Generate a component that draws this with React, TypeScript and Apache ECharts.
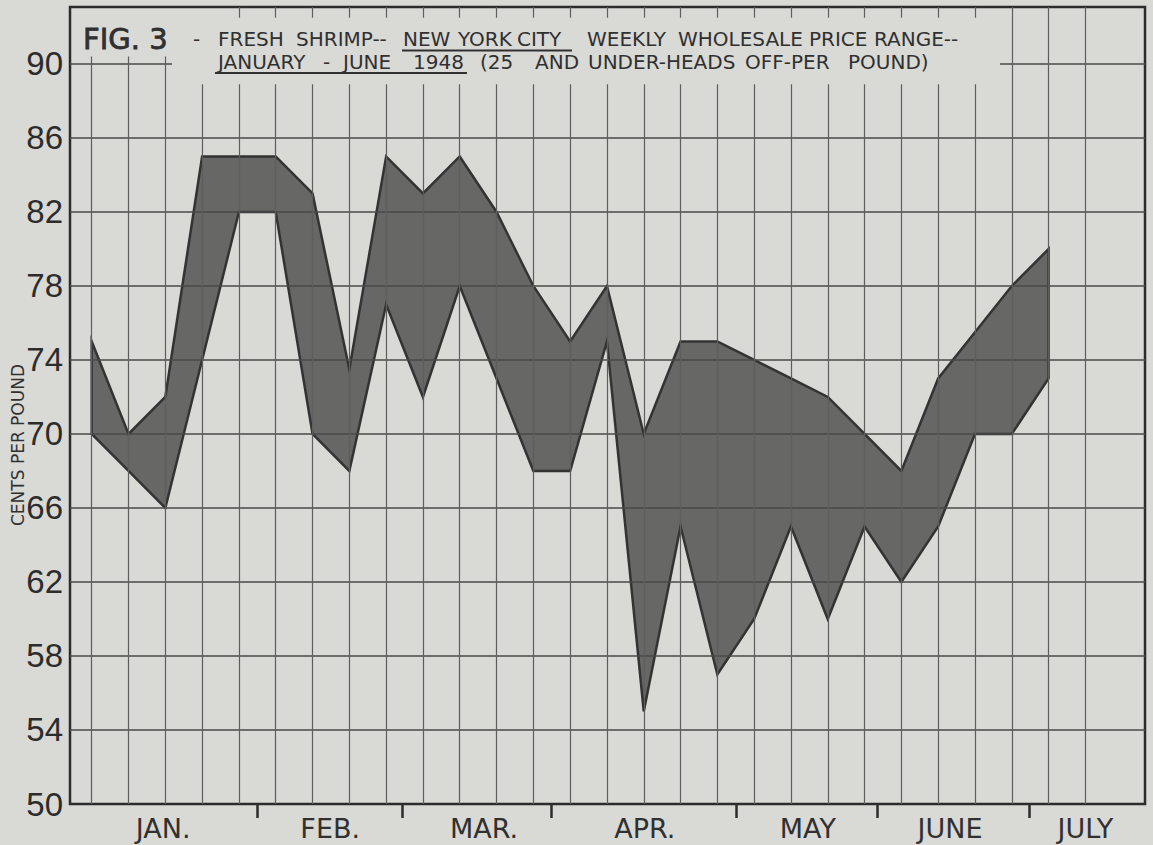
import React, { useEffect, useRef } from "react";
import * as echarts from "echarts";

// ---------------- data ----------------
const weekIndex = [0, 1, 2, 3, 4, 5, 6, 7, 8, 9, 10, 11, 12, 13, 14, 15, 16, 17, 18, 19, 20, 21, 22, 23, 24, 25, 26];
const lowPrice = [70, 68, 66, 74, 82, 82, 70, 68, 77, 72, 78, 73, 68, 68, 75, 55, 65, 57, 60, 65, 60, 65, 62, 65, 70, 70, 73];
const highPrice = [75, 70, 72, 85, 85, 85, 83, 73.5, 85, 83, 85, 82, 78, 75, 78, 70, 75, 75, 74, 73, 72, 70, 68, 73, 75.5, 78, 80];
const yTickValues = [50, 54, 58, 62, 66, 70, 74, 78, 82, 86, 90];
const monthLabels = ["JAN.", "FEB.", "MAR.", "APR.", "MAY", "JUNE", "JULY"];
const monthLabelWeeks = [1.94, 6.48, 10.66, 15.03, 19.46, 23.32, 27.0];
const monthBoundaryWeeks = [4.49, 8.44, 12.48, 17.51, 21.34, 25.47];
const gridWeeks = [0, 1, 2, 3, 4, 5, 6, 7, 8, 9, 10, 11, 12, 13, 14, 15, 16, 17, 18, 19, 20, 21, 22, 23, 24, 25, 26, 27];
const titleFig = "FIG. 3";
const titleRow1 = ["-", "FRESH", "SHRIMP--", "NEW", "YORK", "CITY", "WEEKLY", "WHOLESALE", "PRICE", "RANGE--"];
const titleRow2 = ["JANUARY", "-", "JUNE", "1948", "(25", "AND", "UNDER-HEADS", "OFF-PER", "POUND)"];
const yAxisTitle = "CENTS PER POUND";

// ---------------- layout ----------------
const X_MIN = -0.59;
const X_MAX = 28.62;
const Y_MIN = 50;
const Y_MAX = 93.08;
const row1X = [193, 218, 296, 403, 458, 517, 587, 678, 809, 874];
const row2X = [218, 323, 343, 413, 480, 535, 588, 745, 848];
const INK = "#303030";
const PAPER = "#d9d9d6";

function nearestMonth(v: number): string {
  let best = 0;
  for (let i = 1; i < monthLabelWeeks.length; i++) {
    if (Math.abs(monthLabelWeeks[i] - v) < Math.abs(monthLabelWeeks[best] - v)) best = i;
  }
  return monthLabels[best];
}

export default function App() {
  const ref = useRef<HTMLDivElement>(null);

  useEffect(() => {
    if (!ref.current) return;
    const chart = echarts.init(ref.current, null, { renderer: "svg" });

    const hSegs: any[] = yTickValues
      .filter((v) => v > Y_MIN && v < 90)
      .map((v) => [{ coord: [X_MIN, v] }, { coord: [X_MAX, v] }]);
    hSegs.push([{ coord: [X_MIN, 90] }, { coord: [2.18, 90] }]);
    hSegs.push([{ coord: [24.68, 90] }, { coord: [X_MAX, 90] }]);

    const vSegs: any[] = gridWeeks.map((w) => [
      { coord: [w, Y_MIN] },
      { coord: [w, w <= 2 ? 90.4 : w >= 25 ? Y_MAX : 88.9] },
    ]);
    gridWeeks
      .filter((w) => w >= 4 && w <= 24)
      .forEach((w) => vSegs.push([{ coord: [w, Y_MAX] }, { coord: [w, 92.5] }]));

    const helperData = weekIndex.map((w, i) => [w, lowPrice[i]]);
    const smallText = { fill: INK, fontFamily: "DejaVu Sans", fontSize: 20, verticalAlign: "middle", textVerticalAlign: "middle" };

    const graphic: any[] = [
      {
        type: "text",
        x: 83,
        y: 39,
        style: {
          text: titleFig,
          fill: INK,
          stroke: INK,
          lineWidth: 0.8,
          fontFamily: "DejaVu Sans",
          fontSize: 29,
          verticalAlign: "middle",
          textVerticalAlign: "middle",
        },
      },
      ...titleRow1.map((t, i) => ({ type: "text", x: row1X[i], y: 38.5, style: { ...smallText, text: t } })),
      ...titleRow2.map((t, i) => ({ type: "text", x: row2X[i], y: 62, style: { ...smallText, text: t } })),
      { type: "line", shape: { x1: 402, y1: 50.5, x2: 572, y2: 50.5 }, style: { stroke: INK, lineWidth: 1.8 } },
      { type: "line", shape: { x1: 215, y1: 73, x2: 467, y2: 73 }, style: { stroke: INK, lineWidth: 1.8 } },
      {
        type: "text",
        x: 18,
        y: 445,
        rotation: Math.PI / 2,
        style: {
          text: yAxisTitle,
          fill: INK,
          fontFamily: "DejaVu Sans",
          fontSize: 17,
          align: "center",
          textAlign: "center",
          verticalAlign: "middle",
          textVerticalAlign: "middle",
        },
      },
    ];

    const option: any = {
      animation: false,
      backgroundColor: PAPER,
      grid: {
        left: 70,
        right: 8,
        top: 7,
        bottom: 41,
        show: true,
        borderColor: "#2c2c2c",
        borderWidth: 2.5,
        backgroundColor: "transparent",
      },
      xAxis: {
        type: "value",
        min: X_MIN,
        max: X_MAX,
        axisLine: { show: false },
        splitLine: { show: false },
        axisTick: {
          show: true,
          customValues: monthBoundaryWeeks,
          length: 14,
          inside: false,
          lineStyle: { color: "#2c2c2c", width: 2.5 },
        },
        axisLabel: {
          customValues: monthLabelWeeks,
          formatter: (v: number) => nearestMonth(v),
          color: INK,
          fontSize: 27,
          fontFamily: "DejaVu Sans",
          margin: 11,
        },
      },
      yAxis: {
        type: "value",
        min: Y_MIN,
        max: Y_MAX,
        axisLine: { show: false },
        axisTick: { show: false },
        splitLine: { show: false },
        axisLabel: {
          customValues: yTickValues,
          color: "#2c2c2c",
          fontSize: 33,
          fontFamily: "Liberation Sans",
          margin: 7,
        },
      },
      graphic,
      series: [
        {
          type: "line",
          name: "hgrid",
          data: helperData,
          showSymbol: false,
          lineStyle: { opacity: 0 },
          silent: true,
          z: 1,
          markLine: {
            silent: true,
            symbol: ["none", "none"],
            label: { show: false },
            emphasis: { disabled: true },
            lineStyle: { color: "#484848", width: 1.7, type: "solid" },
            data: hSegs,
          },
        },
        {
          type: "line",
          name: "vgrid",
          data: helperData,
          showSymbol: false,
          lineStyle: { opacity: 0 },
          silent: true,
          z: 1,
          markLine: {
            silent: true,
            symbol: ["none", "none"],
            label: { show: false },
            emphasis: { disabled: true },
            lineStyle: { color: "#5e5e5e", width: 1.2, type: "solid" },
            data: vSegs,
          },
        },
        {
          type: "custom",
          name: "range",
          z: 3,
          silent: true,
          data: weekIndex.map((w, i) => [w, lowPrice[i], highPrice[i]]),
          encode: { x: 0, y: [1, 2] },
          renderItem: (params: any, api: any) => {
            if (params.dataIndex !== 0) return null;
            const upper = weekIndex.map((w, i) => api.coord([w, highPrice[i]]));
            const lower = weekIndex.map((w, i) => api.coord([w, lowPrice[i]])).reverse();
            return {
              type: "polygon",
              shape: { points: upper.concat(lower) },
              style: {
                fill: "rgba(48,48,48,0.68)",
                stroke: "#333333",
                lineWidth: 2.5,
                lineJoin: "miter",
                miterLimit: 6,
              },
            };
          },
        },
      ],
    };

    chart.setOption(option);
    return () => {
      chart.dispose();
    };
  }, []);

  return (
    <div
      ref={ref}
      style={{ position: "absolute", left: 0, top: 0, width: "1153px", height: "845px" }}
    />
  );
}
